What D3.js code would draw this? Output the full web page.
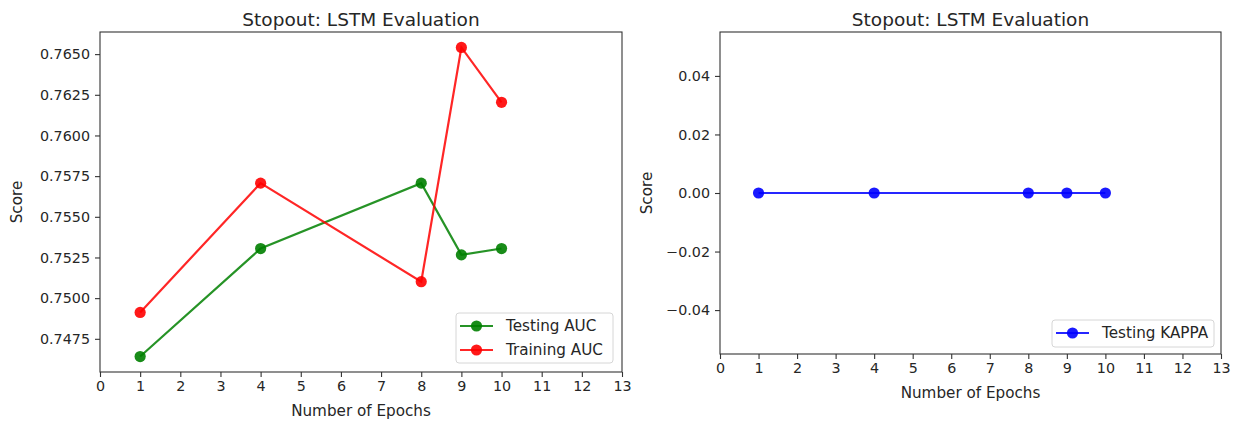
<!DOCTYPE html>
<html>
<head>
<meta charset="utf-8">
<script src="https://cdn.jsdelivr.net/npm/d3@7"></script>
<style>
  html, body { margin: 0; padding: 0; background: #fff; }
  svg { display: block; font-family: "DejaVu Sans", sans-serif; }
  text { fill: #262626; }
</style>
</head>
<body>
<svg id="chart" width="1233" height="422"></svg>
<script>
// Epochs evaluated and the scores recorded at each one
const epochs = [1, 4, 8, 9, 10];
const testingAUC = [0.74641, 0.75305, 0.75707, 0.75266, 0.75305];
const trainingAUC = [0.74912, 0.75707, 0.75101, 0.76541, 0.76204];
const testingKappa = [0, 0, 0, 0, 0];

const xTicks = d3.range(0, 14);
const aucTicks = [0.7475, 0.7500, 0.7525, 0.7550, 0.7575, 0.7600, 0.7625, 0.7650];
const kappaTicks = [-0.04, -0.02, 0.00, 0.02, 0.04];

const titleText = "Stopout: LSTM Evaluation";
const xLabel = "Number of Epochs";
const yLabel = "Score";

const TICK_FONT = 14.3;
const LABEL_FONT = 15.2;
const TITLE_FONT = 18.5;
const LEGEND_FONT = 15.2;

const svg = d3.select("#chart");

// Pad a data extent by 5% on each side
function padded(values) {
  const [lo, hi] = d3.extent(values);
  if (lo === hi) return [lo - 0.055, hi + 0.055];
  const m = (hi - lo) * 0.05;
  return [lo - m, hi + m];
}

function drawPanel(cfg) {
  const { left, right, top, bottom } = cfg.box;
  const g = svg.append("g");
  const x = d3.scaleLinear().domain([0, 13]).range([left, right]);
  const y = d3.scaleLinear().domain(cfg.yDomain).range([bottom, top]);

  // series lines and markers
  cfg.series.forEach(s => {
    const pts = epochs.map((e, i) => [e, s.values[i]]);
    const line = d3.line().x(d => x(d[0])).y(d => y(d[1]));
    g.append("path")
      .attr("d", line(pts))
      .attr("fill", "none")
      .attr("stroke", s.color)
      .attr("stroke-opacity", 0.85)
      .attr("stroke-width", 2.2);
    g.selectAll(null).data(pts).enter().append("circle")
      .attr("cx", d => x(d[0]))
      .attr("cy", d => y(d[1]))
      .attr("r", 5.6)
      .attr("fill", s.color)
      .attr("fill-opacity", 0.9);
  });

  // axes
  const xAxis = d3.axisBottom(x).tickValues(xTicks).tickSize(5).tickPadding(4)
    .tickFormat(d3.format("d"));
  const yAxis = d3.axisLeft(y).tickValues(cfg.yTicks).tickSize(5).tickPadding(5)
    .tickFormat(cfg.yFormat);

  const gx = g.append("g").attr("transform", `translate(0,${bottom})`).call(xAxis);
  const gy = g.append("g").attr("transform", `translate(${left},0)`).call(yAxis);
  [gx, gy].forEach(a => {
    a.select(".domain").remove();
    a.selectAll(".tick line").attr("stroke", "#333").attr("stroke-width", 1.1);
    a.selectAll(".tick text").attr("font-size", TICK_FONT).attr("fill", "#262626")
      .attr("font-family", "DejaVu Sans, sans-serif");
  });

  // frame
  g.append("rect")
    .attr("x", left).attr("y", top)
    .attr("width", right - left).attr("height", bottom - top)
    .attr("fill", "none").attr("stroke", "#333").attr("stroke-width", 1.1);

  // title and axis labels
  g.append("text")
    .attr("x", (left + right) / 2).attr("y", top - 6.5)
    .attr("text-anchor", "middle").attr("font-size", TITLE_FONT)
    .text(titleText);
  g.append("text")
    .attr("x", (left + right) / 2).attr("y", bottom + 44)
    .attr("text-anchor", "middle").attr("font-size", LABEL_FONT)
    .text(xLabel);
  g.append("text")
    .attr("transform", `translate(${cfg.yLabelX},${(top + bottom) / 2}) rotate(-90)`)
    .attr("text-anchor", "middle").attr("font-size", LABEL_FONT)
    .text(yLabel);

  // legend
  const L = cfg.legend;
  const lg = g.append("g");
  lg.append("rect")
    .attr("x", L.x).attr("y", L.y).attr("width", L.w).attr("height", L.h)
    .attr("rx", 3).attr("fill", "#fff").attr("fill-opacity", 0.85)
    .attr("stroke", "#d6d6d6").attr("stroke-width", 1);
  cfg.series.forEach((s, i) => {
    const cy = L.y + 13 + i * 24;
    lg.append("line")
      .attr("x1", L.x + 4).attr("x2", L.x + 37)
      .attr("y1", cy).attr("y2", cy)
      .attr("stroke", s.color).attr("stroke-opacity", 0.85).attr("stroke-width", 2.2);
    lg.append("circle")
      .attr("cx", L.x + 20.5).attr("cy", cy).attr("r", 5.6)
      .attr("fill", s.color).attr("fill-opacity", 0.9);
    lg.append("text")
      .attr("x", L.x + 50).attr("y", cy).attr("dy", "0.35em")
      .attr("font-size", LEGEND_FONT)
      .text(s.name);
  });
}

drawPanel({
  box: { left: 100, right: 622, top: 32, bottom: 372 },
  yDomain: padded(testingAUC.concat(trainingAUC)),
  yTicks: aucTicks,
  yFormat: d3.format(".4f"),
  yLabelX: 22,
  series: [
    { name: "Testing AUC", values: testingAUC, color: "#008000" },
    { name: "Training AUC", values: trainingAUC, color: "#ff0000" }
  ],
  legend: { x: 456, y: 313, w: 157, h: 50 }
});

drawPanel({
  box: { left: 720, right: 1221, top: 32, bottom: 354 },
  yDomain: padded(testingKappa),
  yTicks: kappaTicks,
  yFormat: d => d3.format(".2f")(d).replace("-", "\u2212"),
  yLabelX: 652,
  series: [
    { name: "Testing KAPPA", values: testingKappa, color: "#0000ff" }
  ],
  legend: { x: 1052, y: 320, w: 162, h: 27 }
});
</script>
</body>
</html>
